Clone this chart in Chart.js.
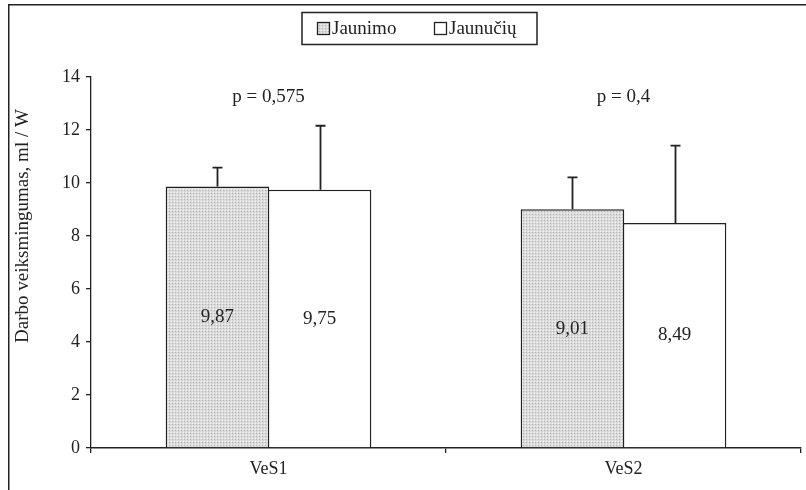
<!DOCTYPE html>
<html>
<head>
<meta charset="utf-8">
<script src="https://cdn.jsdelivr.net/npm/chart.js@4/dist/chart.umd.min.js"></script>
<style>
  html, body { margin: 0; padding: 0; background: #fff; }
  #wrap { width: 806px; height: 490px; position: relative; }
</style>
</head>
<body>
<div id="wrap"><canvas id="c" width="806" height="490"></canvas></div>
<script>
// Categories and series
const categories = ['VeS1', 'VeS2'];
const seriesNames = ['Jaunimo', 'Jaunučių'];
const jaunimo = [9.87, 9.01];
const jaunuciu = [9.75, 8.49];
// Upper error bar lengths (standard deviation)
const jaunimoErr = [0.71, 1.2];
const jaunuciuErr = [2.41, 2.92];
// Significance labels over each group, and their height on the value axis
const pLabels = ['p = 0,575', 'p = 0,4'];
const pLabelLevel = 13.25;
const yTicks = [0, 2, 4, 6, 8, 10, 12, 14];

const FONT = '"Liberation Serif", "Times New Roman", serif';
const INK = '#222';

// Fine dotted grey fill used for the Jaunimo bars
function dotPattern() {
  const t = document.createElement('canvas');
  t.width = 3; t.height = 3;
  const g = t.getContext('2d');
  g.fillStyle = '#d6d6d6';
  g.fillRect(0, 0, 3, 3);
  g.fillStyle = '#f2f2f2';
  g.fillRect(0, 0, 1, 1);
  g.fillStyle = '#b8b8b8';
  g.fillRect(1, 1, 1, 1);
  g.fillStyle = '#e6e6e6';
  g.fillRect(2, 0, 1, 1);
  g.fillRect(0, 2, 1, 1);
  return g.createPattern(t, 'repeat');
}
const ctx0 = document.getElementById('c').getContext('2d');
const greyFill = dotPattern();

const errors = [jaunimoErr, jaunuciuErr];

const fmt = v => v.toFixed(2).replace('.', ',');

const decorations = {
  id: 'decorations',
  beforeDraw(chart) {
    const c = chart.ctx;
    c.save();
    c.fillStyle = '#fff';
    c.fillRect(0, 0, chart.width, chart.height);
    // outer frame
    c.strokeStyle = INK;
    c.lineWidth = 1.5;
    c.strokeRect(8.75, 4.75, 820, 520);
    c.restore();
  },
  afterDatasetsDraw(chart) {
    const c = chart.ctx;
    const ys = chart.scales.y;
    const xs = chart.scales.x;
    c.save();
    // error bars (upper only)
    c.strokeStyle = INK;
    c.lineWidth = 1.8;
    chart.data.datasets.forEach((ds, di) => {
      const meta = chart.getDatasetMeta(di);
      meta.data.forEach((bar, i) => {
        const v = ds.data[i];
        const top = ys.getPixelForValue(v + errors[di][i]);
        const base = ys.getPixelForValue(v);
        const x = Math.round(bar.x) + 0.5;
        c.beginPath();
        c.moveTo(x, base);
        c.lineTo(x, top);
        c.moveTo(x - 5, top);
        c.lineTo(x + 5, top);
        c.stroke();
        // value label in the middle of the bar
        c.fillStyle = '#222';
        c.font = '19px ' + FONT;
        c.textAlign = 'center';
        c.textBaseline = 'middle';
        c.fillText(fmt(v), bar.x, ys.getPixelForValue(v / 2));
      });
    });
    // p-value labels over each group
    c.font = '19px ' + FONT;
    c.fillStyle = '#222';
    c.textAlign = 'center';
    c.textBaseline = 'middle';
    categories.forEach((cat, i) => {
      c.fillText(pLabels[i], xs.getPixelForValue(i), ys.getPixelForValue(pLabelLevel));
    });

    // legend in a framed box
    const boxX = 302, boxY = 12.5, boxW = 235, boxH = 32;
    c.lineWidth = 1.5;
    c.strokeStyle = INK;
    c.strokeRect(boxX, boxY, boxW, boxH);
    const itemX = [317, 434];
    chart.data.datasets.forEach((ds, di) => {
      const sx = itemX[di], sy = 22;
      c.fillStyle = ds.backgroundColor;
      c.fillRect(sx, sy, 12, 12);
      c.lineWidth = 1.3;
      c.strokeStyle = INK;
      c.strokeRect(sx + 0.5, sy + 0.5, 12, 12);
      c.fillStyle = '#222';
      c.font = '19px ' + FONT;
      c.textAlign = 'left';
      c.textBaseline = 'middle';
      c.fillText(ds.label, sx + 15, 29);
    });

    // value axis title
    c.save();
    c.translate(23, 226);
    c.rotate(-Math.PI / 2);
    c.font = '19px ' + FONT;
    c.fillStyle = '#222';
    c.textAlign = 'center';
    c.textBaseline = 'middle';
    c.fillText('Darbo veiksmingumas, ml / W', 0, 0);
    c.restore();

    c.restore();
  }
};

new Chart(ctx0, {
  type: 'bar',
  data: {
    labels: categories,
    datasets: [
      { label: seriesNames[0], data: jaunimo, backgroundColor: greyFill,
        borderColor: INK, borderWidth: 1.5, borderSkipped: 'bottom' },
      { label: seriesNames[1], data: jaunuciu, backgroundColor: '#ffffff',
        borderColor: INK, borderWidth: 1.5, borderSkipped: 'bottom' }
    ]
  },
  options: {
    responsive: false,
    animation: false,
    devicePixelRatio: 1,
    layout: { padding: { left: 0, right: 5, top: 77, bottom: 0 } },
    datasets: { bar: { categoryPercentage: 0.575, barPercentage: 1.015 } },
    plugins: {
      legend: { display: false },
      tooltip: { enabled: false }
    },
    scales: {
      x: {
        grid: { display: true, offset: true, drawOnChartArea: false, drawTicks: true,
                tickLength: 5, color: INK, lineWidth: 1.3 },
        border: { display: true, color: INK, width: 1.5 },
        ticks: { color: '#222', font: { family: FONT, size: 18 }, padding: 5 },
        afterFit(s) { s.height = 42; }
      },
      y: {
        min: 0, max: 14,
        afterBuildTicks(s) { s.ticks = yTicks.map(v => ({ value: v })); },
        grid: { display: true, drawOnChartArea: false, drawTicks: true,
                tickLength: 5, color: INK, lineWidth: 1.3 },
        border: { display: true, color: INK, width: 1.3 },
        ticks: { color: '#222', font: { family: FONT, size: 18 }, padding: 6 },
        afterFit(s) { s.width = 91; }
      }
    }
  },
  plugins: [decorations]
});
</script>
</body>
</html>
